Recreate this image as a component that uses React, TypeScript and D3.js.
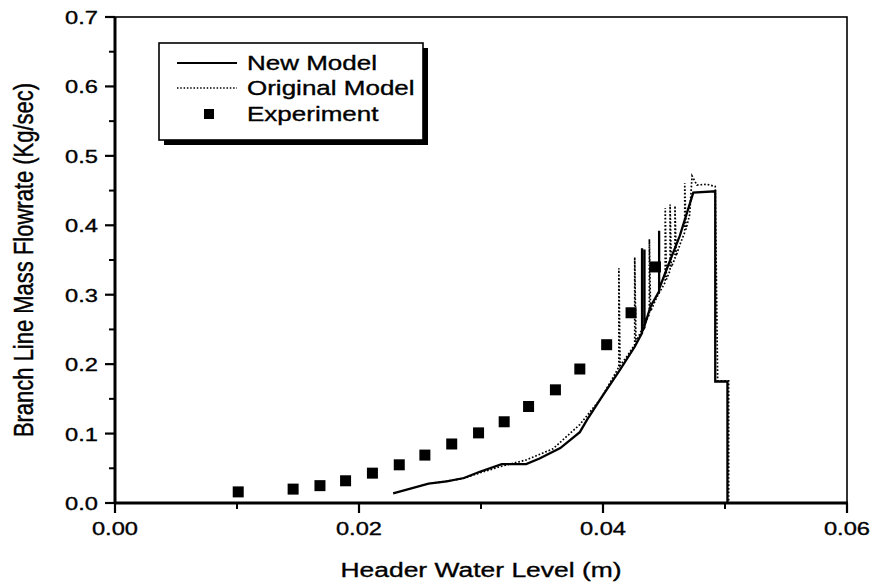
import React from "react";
import * as d3 from "d3";

const W = 874;
const H = 586;
const PLOT = { left: 115, right: 847, top: 17, bottom: 503 };

const xTickValues = [0, 0.02, 0.04, 0.06];
const xTickLabels = ["0.00", "0.02", "0.04", "0.06"];
const xMinorTicks = [0.01, 0.03, 0.05];
const yTickValues = [0, 0.1, 0.2, 0.3, 0.4, 0.5, 0.6, 0.7];
const yTickLabels = ["0.0", "0.1", "0.2", "0.3", "0.4", "0.5", "0.6", "0.7"];
const yMinorTicks = [0.05, 0.15, 0.25, 0.35, 0.45, 0.55, 0.65];

const xTitle = "Header Water Level (m)";
const yTitle = "Branch Line Mass Flowrate (Kg/sec)";
const legendLabels = ["New Model", "Original Model", "Experiment"];

// Experiment (squares)
const expX = [0.0101, 0.0146, 0.0168, 0.0189, 0.0211, 0.0233, 0.0254, 0.0276, 0.0298, 0.0319, 0.0339, 0.0361, 0.0381, 0.0403, 0.0423, 0.0443];
const expY = [0.016, 0.020, 0.025, 0.032, 0.043, 0.055, 0.069, 0.085, 0.101, 0.117, 0.139, 0.163, 0.193, 0.228, 0.274, 0.340];

// New Model (solid)
const newX = [0.0228, 0.0257, 0.0272, 0.0286, 0.0299, 0.0317, 0.0337, 0.0348, 0.0365, 0.0381, 0.0387, 0.0398, 0.0414, 0.0426, 0.0432, 0.0432, 0.0432, 0.0434, 0.0434, 0.0434, 0.0439, 0.0446, 0.0446, 0.0446, 0.0452, 0.0463, 0.0474, 0.0492, 0.0492, 0.0502, 0.0502];
const newY = [0.014, 0.028, 0.031, 0.036, 0.045, 0.056, 0.056, 0.064, 0.079, 0.102, 0.120, 0.150, 0.192, 0.225, 0.245, 0.367, 0.247, 0.253, 0.365, 0.255, 0.283, 0.305, 0.392, 0.308, 0.336, 0.385, 0.447, 0.449, 0.175, 0.175, 0.0];

// Original Model (dotted)
const origX = [0.0262, 0.0285, 0.0300, 0.0317, 0.0337, 0.0359, 0.0381, 0.0398, 0.0408, 0.0413, 0.0413, 0.0414, 0.0420, 0.0426, 0.0426, 0.0427, 0.0432, 0.0438, 0.0438, 0.0439, 0.0444, 0.0451, 0.0451, 0.0452, 0.0455, 0.0455, 0.0456, 0.0459, 0.0459, 0.0460, 0.0463, 0.0467, 0.0467, 0.0468, 0.0471, 0.0473, 0.0477, 0.0485, 0.0492, 0.0494, 0.0503, 0.0503];
const origY = [0.029, 0.035, 0.044, 0.053, 0.062, 0.078, 0.113, 0.150, 0.180, 0.196, 0.338, 0.198, 0.212, 0.228, 0.354, 0.232, 0.250, 0.272, 0.380, 0.276, 0.296, 0.318, 0.425, 0.322, 0.335, 0.430, 0.340, 0.352, 0.428, 0.356, 0.372, 0.390, 0.461, 0.394, 0.415, 0.471, 0.458, 0.459, 0.456, 0.176, 0.176, 0.0];

const FONT = "'Liberation Sans', Arial, Helvetica, sans-serif";

export default function App() {
  const x = d3.scaleLinear().domain([0, 0.06]).range([PLOT.left, PLOT.right]);
  const y = d3.scaleLinear().domain([0, 0.7]).range([PLOT.bottom, PLOT.top]);
  const line = d3
    .line<[number, number]>()
    .x((d) => x(d[0]))
    .y((d) => y(d[1]));
  const newPts: [number, number][] = newX.map((v, i) => [v, newY[i]]);
  const origPts: [number, number][] = origX.map((v, i) => [v, origY[i]]);
  const ms = 11;

  const lg = { x: 159, y: 43, w: 264, h: 97 };
  const txtStroke = { stroke: "#000", strokeWidth: 0.35 };

  return (
    <svg width={W} height={H} style={{ position: "absolute", left: 0, top: 0, background: "#fff" }} fontFamily={FONT}>
      <rect x={0} y={0} width={W} height={H} fill="#fff" />
      {/* curves */}
      <path d={line(origPts) || ""} fill="none" stroke="#000" strokeWidth={1.7} strokeDasharray="1.7 1.9" />
      <path d={line(newPts) || ""} fill="none" stroke="#000" strokeWidth={2.3} />
      {expX.map((v, i) => (
        <rect key={i} x={x(v) - ms / 2} y={y(expY[i]) - ms / 2} width={ms} height={ms} fill="#000" />
      ))}
      {/* frame */}
      <rect x={PLOT.left} y={PLOT.top} width={PLOT.right - PLOT.left} height={PLOT.bottom - PLOT.top} fill="none" stroke="#000" strokeWidth={1.6} />
      <line x1={PLOT.left} x2={PLOT.right + 1} y1={PLOT.bottom} y2={PLOT.bottom} stroke="#000" strokeWidth={3} />
      <line x1={PLOT.left} x2={PLOT.left} y1={PLOT.top} y2={PLOT.bottom} stroke="#000" strokeWidth={3} />
      {/* x ticks */}
      {xTickValues.map((v, i) => (
        <g key={"xt" + i}>
          <line x1={x(v)} x2={x(v)} y1={PLOT.bottom} y2={PLOT.bottom + 10} stroke="#000" strokeWidth={2.2} />
          <text transform={`translate(${x(v)},${PLOT.bottom + 32}) scale(1.28,1)`} textAnchor="middle" fontSize={18.5} {...txtStroke}>
            {xTickLabels[i]}
          </text>
        </g>
      ))}
      {xMinorTicks.map((v, i) => (
        <line key={"xm" + i} x1={x(v)} x2={x(v)} y1={PLOT.bottom} y2={PLOT.bottom + 6} stroke="#000" strokeWidth={2} />
      ))}
      {/* y ticks */}
      {yTickValues.map((v, i) => (
        <g key={"yt" + i}>
          <line x1={PLOT.left - 10} x2={PLOT.left} y1={y(v)} y2={y(v)} stroke="#000" strokeWidth={2.2} />
          <text transform={`translate(${PLOT.left - 17},${y(v) + 7}) scale(1.28,1)`} textAnchor="end" fontSize={18.5} {...txtStroke}>
            {yTickLabels[i]}
          </text>
        </g>
      ))}
      {yMinorTicks.map((v, i) => (
        <line key={"ym" + i} x1={PLOT.left - 6} x2={PLOT.left} y1={y(v)} y2={y(v)} stroke="#000" strokeWidth={2} />
      ))}
      {/* axis titles */}
      <text transform={`translate(${(PLOT.left + PLOT.right) / 2},${577}) scale(1.26,1)`} textAnchor="middle" fontSize={21} {...txtStroke}>
        {xTitle}
      </text>
      <text transform={`translate(${33},${(PLOT.top + PLOT.bottom) / 2}) scale(1.22,1) rotate(-90)`} textAnchor="middle" fontSize={22} {...txtStroke}>
        {yTitle}
      </text>
      {/* legend */}
      <rect x={lg.x + 5} y={lg.y + 5} width={lg.w} height={lg.h} fill="#000" />
      <rect x={lg.x} y={lg.y} width={lg.w} height={lg.h} fill="#fff" stroke="#000" strokeWidth={1.6} />
      <line x1={177} x2={237} y1={63} y2={63} stroke="#000" strokeWidth={1.8} />
      <line x1={177} x2={237} y1={88} y2={88} stroke="#000" strokeWidth={1.5} strokeDasharray="1.5 1.8" />
      <rect x={209 - 5} y={114 - 5} width={10} height={10} fill="#000" />
      {legendLabels.map((t, i) => (
        <text key={t} transform={`translate(247,${[70, 95, 121][i]}) scale(1.3,1)`} fontSize={20} {...txtStroke}>
          {t}
        </text>
      ))}
    </svg>
  );
}
